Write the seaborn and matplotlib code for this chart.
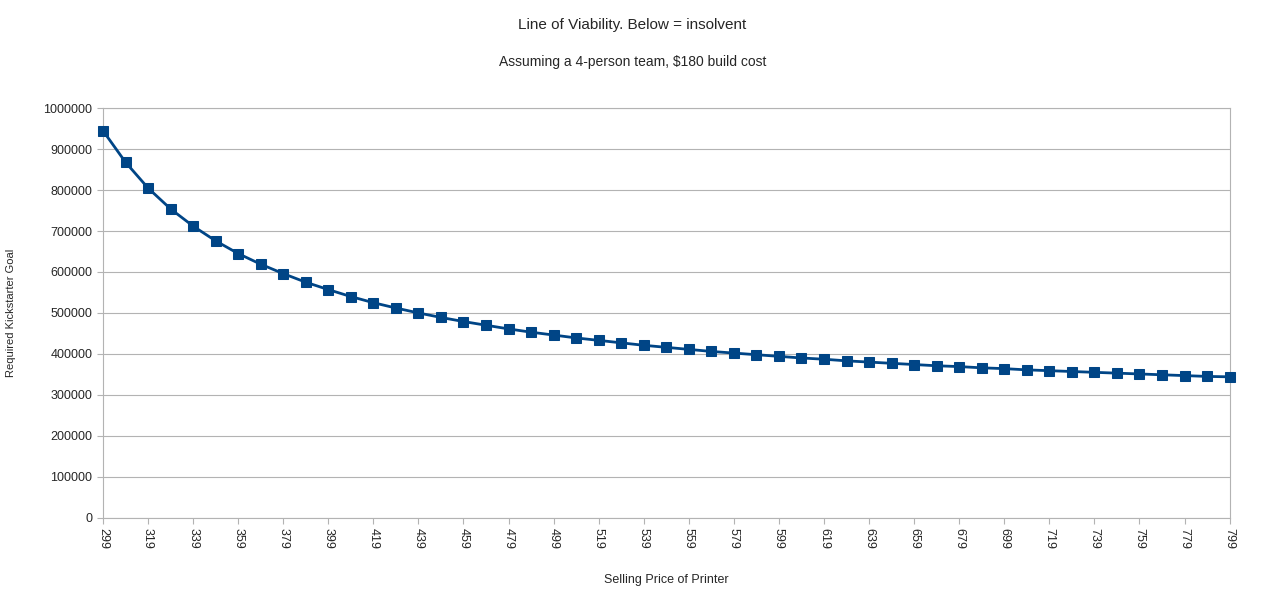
import matplotlib
matplotlib.use("Agg")
import matplotlib.pyplot as plt
import seaborn as sns
import pandas as pd

price = list(range(299, 800, 10))
goal = [945000, 868000, 805000, 754000, 712000, 676000, 645000, 619000, 596000, 575000,
        557000, 540000, 525000, 512000, 500000, 489000, 479000, 470000, 461000, 453000,
        446000, 439000, 433000, 427000, 421000, 416000, 411000, 406000, 402000, 398000,
        394000, 390000, 387000, 383000, 380000, 377000, 374000, 371000, 369000, 366000,
        364000, 361000, 359000, 357000, 355000, 353000, 351000, 349000, 347000, 345000,
        344000]
tick_labels = list(range(299, 800, 20))

df = pd.DataFrame({"price": price, "goal": goal})

sns.set_style("white")
plt.rcParams['font.family'] = ['Liberation Sans', 'DejaVu Sans']

fig = plt.figure(figsize=(12.65, 5.91), dpi=100)
ax = fig.add_axes([0.0814, 0.124, 0.8906, 0.693])
sns.lineplot(data=df, x="price", y="goal", ax=ax, color="#004586", linewidth=2,
             marker="s", markersize=7, markeredgecolor="#004586", clip_on=False, zorder=5)

ax.set_xlim(299, 799)
ax.set_ylim(0, 1000000)
ax.set_yticks(range(0, 1000001, 100000))
ax.set_yticklabels([str(v) for v in range(0, 1000001, 100000)], fontsize=9)
ax.set_xticks(tick_labels)
ax.set_xticklabels([str(v) for v in tick_labels], rotation=-90, fontsize=9)
ax.yaxis.grid(True, color="#b3b3b3", linewidth=0.8)
ax.xaxis.grid(False)
for s in ax.spines.values():
    s.set_color("#b3b3b3")
ax.tick_params(axis="both", length=4, color="#b3b3b3", direction="out", left=True, bottom=True)

ax.set_xlabel("Selling Price of Printer", fontsize=9, labelpad=18)
ax.set_ylabel("Required Kickstarter Goal", fontsize=8, labelpad=20)
fig.text(0.5, 1 - 25 / 591, "Line of Viability. Below = insolvent", ha="center", va="center", fontsize=11)
fig.text(0.5, 1 - 62 / 591, "Assuming a 4-person team, $180 build cost", ha="center", va="center", fontsize=10)

fig.savefig("out.png", dpi=100)
